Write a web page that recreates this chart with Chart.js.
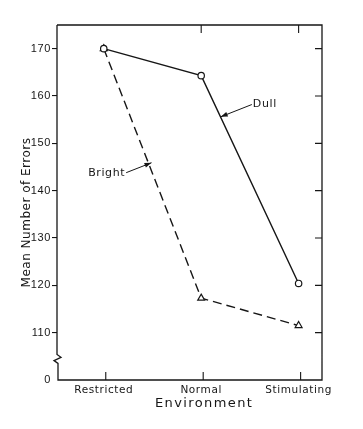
<!DOCTYPE html>
<html>
<head>
<meta charset="utf-8">
<script src="https://cdn.jsdelivr.net/npm/chart.js@4.4.1/dist/chart.umd.min.js"></script>
<style>
  html, body { margin: 0; padding: 0; background: #fff; }
  canvas { display: block; }
</style>
</head>
<body>
<canvas id="grafico" width="363" height="429"></canvas>
<script>
// DADOS DO GRAFICO
const environments = ["Restricted", "Normal", "Stimulating"];
const dullErrors = [170, 164.3, 120.4];
const brightErrors = [170, 117.3, 111.5];
// 100 sits under the axis break and is printed as "0"
const yTickValues = [100, 110, 120, 130, 140, 150, 160, 170];
const yTickLabels = ["0", "110", "120", "130", "140", "150", "160", "170"];
const xTitle = "Environment";
const yTitle = "Mean Number of Errors";

const FONT = "'DejaVu Sans', sans-serif";
const INK = "#161616";

// MOLDURA, QUEBRA DO EIXO, TICKS INTERNOS E TITULOS
const frame = {
  id: "frame",
  beforeDraw(chart) {
    chart.ctx.letterSpacing = "0.6px";
  },
  afterDraw(chart) {
    const { ctx, chartArea: a, scales } = chart;
    const x = scales.x, y = scales.y;
    const L = a.left;
    ctx.save();
    ctx.strokeStyle = INK;
    ctx.lineWidth = 1.3;
    ctx.beginPath();
    // left axis with break
    ctx.moveTo(L, a.top);
    ctx.lineTo(L, y.getPixelForValue(105.4));
    ctx.lineTo(L + 4, y.getPixelForValue(104.8));
    ctx.lineTo(L - 3, y.getPixelForValue(104.1));
    ctx.lineTo(L + 1, y.getPixelForValue(103.5));
    ctx.lineTo(L + 1, a.bottom);
    // bottom, right, top
    ctx.lineTo(a.right, a.bottom);
    ctx.lineTo(a.right, a.top);
    ctx.lineTo(L, a.top);
    ctx.stroke();

    ctx.lineWidth = 1.1;
    ctx.beginPath();
    environments.forEach((e, i) => {
      const px = x.getPixelForValue(i);
      ctx.moveTo(px + 2, a.bottom);
      ctx.lineTo(px + 2, a.bottom - 8);
      if (i > 0) {
        ctx.moveTo(px, a.top);
        ctx.lineTo(px, a.top + 8);
      }
    });
    yTickValues.forEach((v) => {
      if (v === 100) return;
      const py = y.getPixelForValue(v);
      ctx.moveTo(a.right, py);
      ctx.lineTo(a.right - 7, py);
    });
    ctx.stroke();

    // axis titles
    ctx.fillStyle = INK;
    ctx.textAlign = "center";
    ctx.textBaseline = "middle";
    ctx.letterSpacing = "1.4px";
    ctx.font = "13px " + FONT;
    ctx.fillText(xTitle, x.getPixelForValue(1.03), a.bottom + 24);

    ctx.letterSpacing = "0.5px";
    ctx.font = "12px " + FONT;
    ctx.translate(27, y.getPixelForValue(135.4));
    ctx.rotate(-Math.PI / 2);
    ctx.fillText(yTitle, 0, 0);
    ctx.restore();
  },
};

// ROTULOS "Dull" E "Bright" COM SETAS
function arrow(ctx, x0, y0, x1, y1) {
  const ang = Math.atan2(y1 - y0, x1 - x0);
  ctx.beginPath();
  ctx.moveTo(x0, y0);
  ctx.lineTo(x1, y1);
  ctx.stroke();
  ctx.beginPath();
  ctx.moveTo(x1, y1);
  ctx.lineTo(x1 - 7 * Math.cos(ang) + 2.5 * Math.sin(ang), y1 - 7 * Math.sin(ang) - 2.5 * Math.cos(ang));
  ctx.lineTo(x1 - 7 * Math.cos(ang) - 2.5 * Math.sin(ang), y1 - 7 * Math.sin(ang) + 2.5 * Math.cos(ang));
  ctx.closePath();
  ctx.fill();
}

const seriesLabels = {
  id: "seriesLabels",
  afterDatasetsDraw(chart) {
    const { ctx, scales } = chart;
    const x = scales.x, y = scales.y;
    ctx.save();
    ctx.fillStyle = INK;
    ctx.strokeStyle = INK;
    ctx.lineWidth = 1;
    ctx.font = "11px " + FONT;
    ctx.textBaseline = "middle";

    // Dull
    let tx = x.getPixelForValue(1.52), ty = y.getPixelForValue(158.2);
    ctx.textAlign = "left";
    ctx.fillText("Dull", tx + 1, ty);
    arrow(ctx, tx, ty, x.getPixelForValue(1.2), y.getPixelForValue(155.6));

    // Bright
    tx = x.getPixelForValue(0.23);
    ty = y.getPixelForValue(143.8);
    ctx.textAlign = "right";
    ctx.fillText("Bright", tx - 1, ty);
    arrow(ctx, tx, ty, x.getPixelForValue(0.49), y.getPixelForValue(145.9));
    ctx.restore();
  },
};

const config = {
  type: "line",
  data: {
    datasets: [
      {
        label: "Dull",
        data: dullErrors.map((v, i) => ({ x: i, y: v })),
        borderColor: INK,
        borderWidth: 1.4,
        pointStyle: "circle",
        pointRadius: 3.2,
        pointBackgroundColor: "#fff",
        pointBorderColor: INK,
        pointBorderWidth: 1.2,
        tension: 0,
      },
      {
        label: "Bright",
        data: brightErrors.map((v, i) => ({ x: i, y: v })),
        borderColor: INK,
        borderWidth: 1.4,
        borderDash: [9, 5],
        pointStyle: "triangle",
        pointRadius: 4,
        pointBackgroundColor: "#fff",
        pointBorderColor: INK,
        pointBorderWidth: 1.2,
        tension: 0,
      },
    ],
  },
  options: {
    responsive: false,
    animation: false,
    layout: { padding: { left: 0, top: 25, right: 41, bottom: 0 } },
    plugins: {
      legend: { display: false },
      tooltip: { enabled: false },
    },
    scales: {
      x: {
        type: "linear",
        min: -0.48,
        max: 2.24,
        border: { display: false },
        grid: { display: false, drawTicks: false },
        afterBuildTicks: (scale) => {
          scale.ticks = environments.map((e, i) => ({ value: i }));
        },
        afterFit: (scale) => {
          scale.height = 49;
          scale.paddingLeft = 0;
          scale.paddingRight = 0;
        },
        ticks: {
          autoSkip: false,
          maxRotation: 0,
          padding: 4,
          color: INK,
          font: { family: FONT, size: 10.5 },
          callback: (v) => environments[v],
        },
      },
      y: {
        min: 100,
        max: 175,
        border: { display: false },
        afterBuildTicks: (scale) => {
          scale.ticks = yTickValues.map((v) => ({ value: v }));
        },
        afterFit: (scale) => {
          scale.width = 57;
        },
        grid: {
          drawOnChartArea: false,
          tickLength: 5,
          lineWidth: 1.1,
          color: (c) => (c.tick && c.tick.value === 100 ? "rgba(0,0,0,0)" : INK),
        },
        ticks: {
          padding: 1,
          color: INK,
          font: { family: "'Liberation Sans', sans-serif", size: 11 },
          callback: (v) => yTickLabels[yTickValues.indexOf(v)],
        },
      },
    },
  },
  plugins: [frame, seriesLabels],
};

new Chart(document.getElementById("grafico"), config);
</script>
</body>
</html>
